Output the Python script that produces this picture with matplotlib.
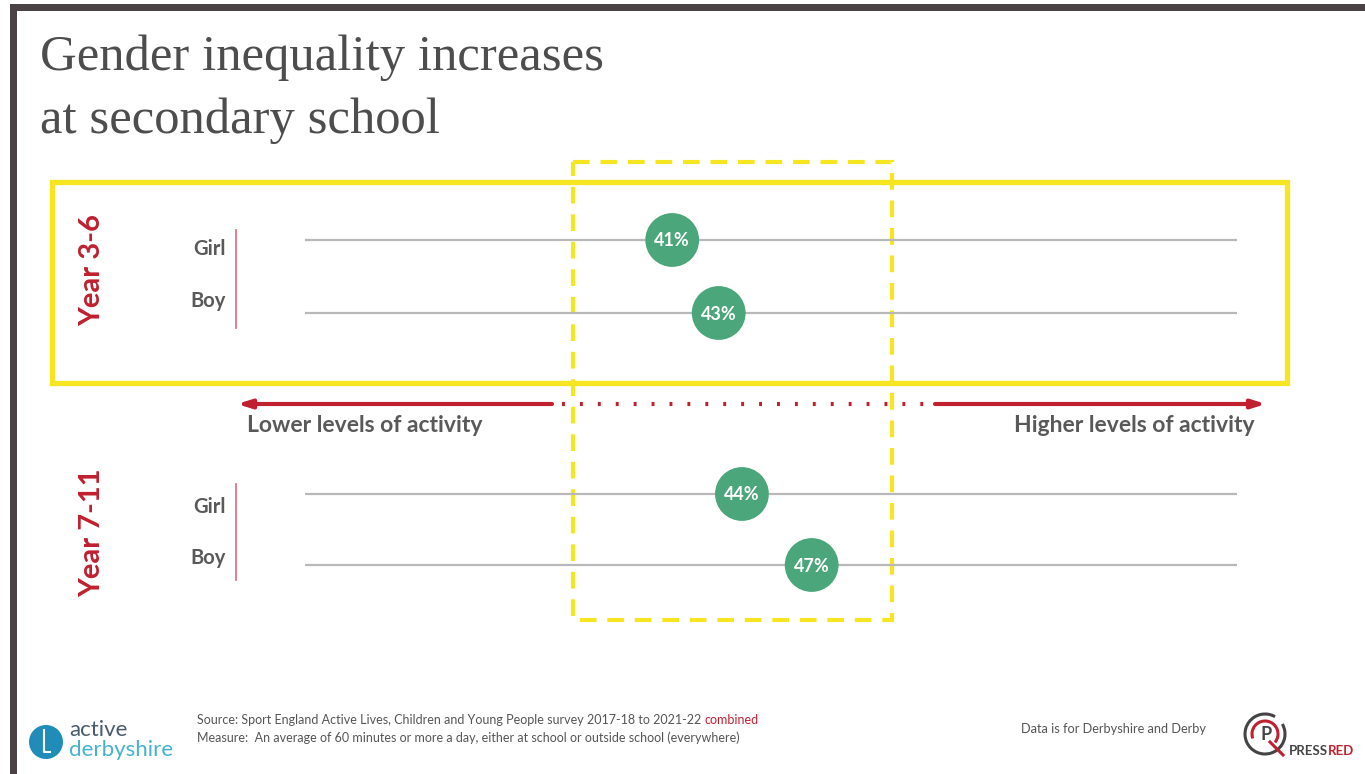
import matplotlib.pyplot as plt
from matplotlib.patches import Rectangle, Circle, Arc

# data
groups = ["Year 3-6", "Year 7-11"]
genders = ["Girl", "Boy"]
values = {"Year 3-6": [41, 43], "Year 7-11": [44, 47]}
title_lines = ["Gender inequality increases", "at secondary school"]
source_text = "Source: Sport England Active Lives, Children and Young People survey 2017-18 to 2021-22 "
measure_text = "Measure:  An average of 60 minutes or more a day, either at school or outside school (everywhere)"

W, H = 1365, 774
RED = "#c0202f"
YELLOW = "#f6e521"
GREEN = "#4ba67b"
GREY_TXT = "#595959"

fig = plt.figure(figsize=(W / 100, H / 100), dpi=100)
bg = fig.add_axes([0, 0, 1, 1])
bg.set_xlim(0, W)
bg.set_ylim(H, 0)
bg.axis("off")

# frame
bg.add_patch(Rectangle((10, 4), W, 7, color="#4a4245", lw=0))
bg.add_patch(Rectangle((10, 4), 7, H, color="#4a4245", lw=0))

# title
for i, line in enumerate(title_lines):
    bg.text(40, 58 + i * 63, line, fontsize=36.5, family="Liberation Serif",
            color="#4d4d4d", va="center", ha="left")

# row layout (pixel rows)
row_y = {"Year 3-6": [240, 313], "Year 7-11": [494, 565]}
label_y = {"Year 3-6": [249, 301], "Year 7-11": [507, 558]}
group_y = {"Year 3-6": 270, "Year 7-11": 533}

# data axes: x in percent, spanning the guide lines
x0, x1 = 305, 1237
ax = fig.add_axes([x0 / W, 0, (x1 - x0) / W, 1])
ax.set_xlim(25.2, 65.3)
ax.set_ylim(H, 0)
ax.axis("off")

for g in groups:
    for j, gender in enumerate(genders):
        y = row_y[g][j]
        ax.plot([25.2, 65.3], [y, y], color="#b8b8b8", lw=1.6, zorder=1,
                solid_capstyle="butt")
        v = values[g][j]
        ax.scatter([v], [y], s=1500, color=GREEN, zorder=3, edgecolors="none")
        ax.text(v, y + 1, f"{v}%", color="white", fontsize=13, fontweight="bold",
                family="Lato", ha="center", va="center", zorder=4)
        bg.text(226, label_y[g][j], gender, fontsize=14.5, fontweight="bold",
                family="Lato", color=GREY_TXT, ha="right", va="center")
    bg.plot([236, 236], [row_y[g][0] - 10, row_y[g][1] + 15], color="#e07785", lw=1.3)
    bg.text(92, group_y[g], g, rotation=90, fontsize=21, fontweight="bold",
            family="Lato", color=RED, ha="center", va="center")

# yellow highlight boxes
bg.add_patch(Rectangle((52, 182), 1235, 201, fill=False, ec=YELLOW, lw=3.8, zorder=5))
bg.add_patch(Rectangle((573, 162), 319, 458, fill=False, ec=YELLOW, lw=3,
                       ls=(0, (4, 2.6)), zorder=5))

# activity arrow
ay = 404
arrow = dict(arrowstyle="-|>,head_length=0.8,head_width=0.25",
             color=RED, lw=3, shrinkA=0, shrinkB=0)
bg.annotate("", xy=(237, ay), xytext=(552, ay), arrowprops=arrow)
bg.annotate("", xy=(1266, ay), xytext=(935, ay), arrowprops=arrow)
bg.plot([562, 928], [ay, ay], color=RED, lw=3, ls=(0, (0.7, 3.6)))
bg.text(247, 426, "Lower levels of activity", fontsize=16.5, fontweight="bold",
        family="Lato", color=GREY_TXT, ha="left", va="center")
bg.text(1255, 426, "Higher levels of activity", fontsize=16.5, fontweight="bold",
        family="Lato", color=GREY_TXT, ha="right", va="center")

# footer
t = bg.text(197, 720, source_text, fontsize=9, family="Lato", color="#555555",
            ha="left", va="center")
fig.canvas.draw()
bb = t.get_window_extent()
bg.text(bb.x1, H - 720, "combined", fontsize=9, family="Lato", color=RED,
        ha="left", va="center", transform=None)
bg.text(197, 738, measure_text, fontsize=9, family="Lato", color="#555555",
        ha="left", va="center")
bg.text(1021, 729, "Data is for Derbyshire and Derby", fontsize=9.2, family="Lato",
        color="#555555", ha="left", va="center")

# active derbyshire logo
bg.add_patch(Circle((46, 742), 17, color="#1f8db8", lw=0))
bg.plot([44, 44, 50], [730, 752, 752], color="white", lw=1.5)
bg.text(69, 730, "active", fontsize=16, family="Lato", color="#4a5a6e",
        ha="left", va="center")
bg.text(69, 750, "derbyshire", fontsize=16, family="Lato", color="#45b3cf",
        ha="left", va="center")

# pressred logo
bg.add_patch(Arc((1265, 734), 40, 40, theta1=-30, theta2=300, color="#444444", lw=2.2))
bg.add_patch(Arc((1265, 734), 26, 26, theta1=-200, theta2=40, color=RED, lw=2.2))
bg.text(1266, 735, "P", fontsize=13, fontweight="bold", family="Lato",
        color="#444444", ha="center", va="center")
bg.plot([1270, 1283], [742, 755], color=RED, lw=2.2)
t2 = bg.text(1289, 751, "PRESS", fontsize=9.5, fontweight="bold", family="Lato",
             color="#444444", ha="left", va="center")
fig.canvas.draw()
bb2 = t2.get_window_extent()
bg.text(bb2.x1, H - 751, "RED", fontsize=9.5, fontweight="bold", family="Lato",
        color=RED, ha="left", va="center", transform=None)

fig.savefig("out.png", dpi=100)
